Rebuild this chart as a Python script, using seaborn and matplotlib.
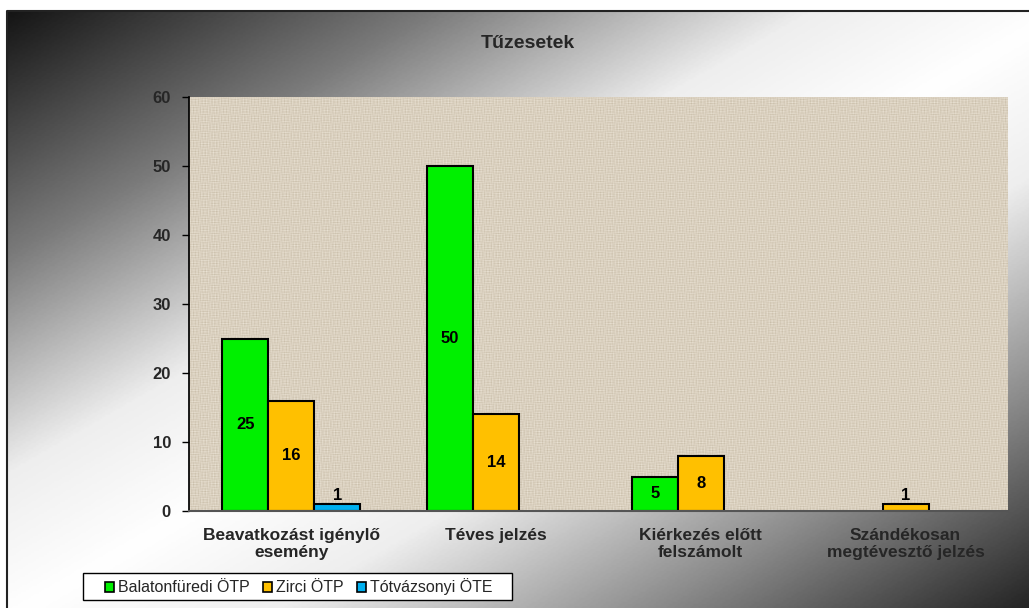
import numpy as np
import pandas as pd
import seaborn as sns
import matplotlib.pyplot as plt
from matplotlib.colors import LinearSegmentedColormap
from matplotlib.patches import Rectangle, Patch

# data
categories = ["Beavatkozást igénylő\nesemény", "Téves jelzés",
              "Kiérkezés előtt\nfelszámolt", "Szándékosan\nmegtévesztő jelzés"]
series = ["Balatonfüredi ÖTP", "Zirci ÖTP", "Tótvázsonyi ÖTE"]
balatonfured = [25, 50, 5, 0]
zirc = [16, 14, 8, 1]
totvazsony = [1, 0, 0, 0]
colors = ["#00F000", "#FFC000", "#00B0F0"]

df = pd.DataFrame({
    "kategoria": categories * 3,
    "egyseg": [s for s in series for _ in categories],
    "db": balatonfured + zirc + totvazsony,
})

sns.set_theme(style="white")
plt.rcParams["font.family"] = ["Liberation Sans", "DejaVu Sans"]

W, H = 1029, 608
fig = plt.figure(figsize=(10.29, 6.08), dpi=100)
fig.patch.set_facecolor("white")

# gradient background of the chart area (runs off the right and bottom edge)
bg = fig.add_axes([7 / W, -0.02, 1.03, 1 - 11 / H + 0.02], zorder=-5)
xx, yy = np.meshgrid(np.linspace(0, 1, 400), np.linspace(0, 1, 300))
s = (xx + yy) / 2
grad = LinearSegmentedColormap.from_list(
    "g", [(0, "#151515"), (0.2, "#7a7a7a"), (0.38, "#eeeeee"), (0.5, "#ffffff"),
          (0.62, "#eeeeee"), (0.8, "#8a8a8a"), (1, "#151515")])
bg.imshow(s, cmap=grad, aspect="auto", extent=[0, 1, 0, 1], vmin=0, vmax=1)
bg.set_axis_off()
bg.plot([0, 0, 1], [0, 1, 1], transform=bg.transAxes, color="#222222",
        linewidth=1.5, clip_on=False)

ax = fig.add_axes([189 / W, 1 - 511 / H, 819 / W, 414 / H])

# linen-like texture of the plot area
tx, ty = np.meshgrid(np.arange(819), np.arange(414))
tex = (np.sin(tx * 1.9) * np.sin(ty * 0.37) + np.sin(ty * 2.3) * np.sin(tx * 0.31)
       + 0.5 * np.sin(tx * 2.7) + 0.5 * np.sin(ty * 2.9))
linen = LinearSegmentedColormap.from_list("l", ["#C8BDA8", "#DBD1C0", "#EBE4D6"])
ax.imshow(tex, cmap=linen, aspect="auto", extent=[0, 1, 0, 1],
          transform=ax.transAxes, zorder=0)

sns.barplot(data=df, x="kategoria", y="db", hue="egyseg", hue_order=series,
            palette=colors, width=0.675, edgecolor="black", linewidth=1.5,
            saturation=1, ax=ax, zorder=2, legend=False)

for p in ax.patches:
    if p.get_height() == 0:
        p.set_visible(False)

for cont, vals in zip(ax.containers, [balatonfured, zirc, totvazsony]):
    mid = [str(v) if v >= 3 else "" for v in vals]
    top = [str(v) if 0 < v < 3 else "" for v in vals]
    ax.bar_label(cont, labels=mid, label_type="center", fontsize=12,
                 fontweight="bold", color="black")
    ax.bar_label(cont, labels=top, label_type="edge", padding=1, fontsize=12,
                 fontweight="bold", color="black")

ax.set_xlim(-0.5, 3.5)
ax.set_ylim(0, 60)
ax.set_yticks(range(0, 61, 10))
ax.set_xlabel("")
ax.set_ylabel("")
ax.tick_params(axis="y", left=True, length=5, width=1, color="black",
               labelsize=12, pad=8)
ax.tick_params(axis="x", bottom=False, labelsize=12.5, pad=6)
for lab in ax.get_yticklabels() + ax.get_xticklabels():
    lab.set_fontweight("bold")
ax.spines["top"].set_visible(False)
ax.spines["right"].set_visible(False)
ax.spines["left"].set_color("black")
ax.spines["bottom"].set_color("#555555")
ax.spines["bottom"].set_linewidth(1.5)

fig.text(528 / W, 1 - 44 / H, "Tűzesetek", ha="center", va="center",
         fontsize=14, fontweight="bold")

# legend box below the plot
fig.patches.append(Rectangle((83 / W, 1 - 600 / H), 429 / W, 27 / H,
                             transform=fig.transFigure, facecolor="white",
                             edgecolor="black", linewidth=1, zorder=3))
handles = [Patch(facecolor=c, edgecolor="black", linewidth=1.2) for c in colors]
leg = fig.legend(handles, series, loc="center left",
                 bbox_to_anchor=(100 / W, 1 - 587 / H), ncol=3, frameon=False,
                 fontsize=11.5, handlelength=0.6, handleheight=0.6,
                 handletextpad=0.2, columnspacing=0.85, borderpad=0.3,
                 borderaxespad=0)
leg.set_zorder(4)

fig.savefig("out.png", dpi=100)
